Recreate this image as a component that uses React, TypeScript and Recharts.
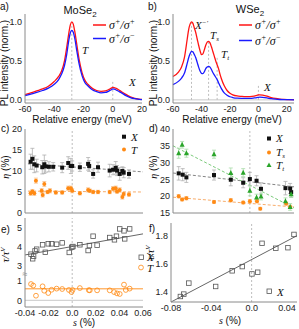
import React from "react";
import {
  ComposedChart,
  Line,
  Scatter,
  XAxis,
  YAxis,
  ReferenceLine,
  ReferenceDot,
  ErrorBar,
} from "recharts";

const SANS = "'Liberation Sans', Arial, sans-serif";
const SERIF = "'Liberation Serif', 'Times New Roman', serif";
const RED = "#ff1414";
const BLUE = "#1a1aff";
const ORANGE = "#ff8a14";
const GREEN = "#2aa52a";
const GRID = "#bdbdbd";
const AXIS = "#8a8a8a";

// a) MoSe2 spectra
const moEnergy = [-60, -56, -52, -48, -44, -40, -37, -35, -33, -31.5, -30, -29, -28, -27, -26, -24.5, -23, -21, -19, -17, -14, -11, -8, -5, -3, -1, 0, 1, 2, 4, 6, 9, 12, 15, 18, 20];
const moCo = [0.068, 0.09, 0.115, 0.14, 0.175, 0.235, 0.3, 0.37, 0.5, 0.67, 0.86, 0.96, 1.0, 0.97, 0.88, 0.7, 0.52, 0.35, 0.25, 0.2, 0.15, 0.12, 0.11, 0.115, 0.13, 0.15, 0.16, 0.158, 0.15, 0.13, 0.105, 0.07, 0.04, 0.02, 0.01, 0.006];
const moCross = [0.055, 0.075, 0.095, 0.12, 0.15, 0.2, 0.26, 0.33, 0.44, 0.58, 0.77, 0.86, 0.89, 0.865, 0.79, 0.62, 0.46, 0.31, 0.22, 0.18, 0.13, 0.105, 0.09, 0.095, 0.11, 0.13, 0.14, 0.138, 0.13, 0.11, 0.09, 0.055, 0.03, 0.015, 0.007, 0.004];

// b) WSe2 spectra
const wEnergy = [-60, -56, -54, -52, -50, -49, -48, -47, -46, -45, -44, -43, -42, -41, -40, -39, -38, -37, -36, -35, -34, -33, -32, -31, -30, -29, -28, -27, -26, -24, -22, -20, -18, -15, -12, -9, -6, -3, -1, 0, 1, 3, 6, 9, 12, 15, 18, 21, 25];
const wCo = [0.3, 0.36, 0.42, 0.54, 0.78, 0.9, 0.97, 1.0, 0.98, 0.92, 0.86, 0.78, 0.7, 0.63, 0.58, 0.59, 0.64, 0.7, 0.74, 0.75, 0.73, 0.68, 0.62, 0.56, 0.5, 0.45, 0.4, 0.33, 0.27, 0.18, 0.12, 0.085, 0.065, 0.05, 0.045, 0.042, 0.042, 0.048, 0.058, 0.063, 0.064, 0.06, 0.048, 0.03, 0.018, 0.01, 0.006, 0.004, 0.002];
const wCross = [0.195, 0.24, 0.28, 0.34, 0.47, 0.54, 0.59, 0.62, 0.615, 0.58, 0.54, 0.48, 0.42, 0.37, 0.34, 0.335, 0.36, 0.4, 0.42, 0.43, 0.42, 0.39, 0.35, 0.32, 0.29, 0.26, 0.22, 0.18, 0.145, 0.09, 0.06, 0.04, 0.03, 0.022, 0.02, 0.02, 0.02, 0.025, 0.03, 0.033, 0.034, 0.032, 0.025, 0.015, 0.009, 0.005, 0.003, 0.002, 0.001];

// c) MoSe2 valley polarization
const cXE = [-56.2, -55.0, -53.7, -52.1, -48.3, -46.9, -46.0, -43.8, -40.9, -34.8, -30.7, -28.9, -28.0, -22.8, -17.2, -16.5, -13.8, -10.5, -2.6, -0.3, 1.5, 2.4, 4.2, 6.0, 6.9, 10.5];
const cXEta = [12.2, 12.9, 11.6, 11.3, 10.9, 11.6, 11.1, 11.0, 11.0, 10.8, 11.9, 11.2, 11.2, 10.9, 11.7, 11.2, 9.3, 10.9, 10.1, 10.3, 10.75, 10.1, 9.3, 10.0, 9.6, 9.3];
const cXErr = [1.8, 2.5, 2.0, 1.5, 1.6, 2.2, 1.4, 1.2, 1.0, 1.2, 1.5, 1.8, 1.2, 1.0, 1.5, 1.3, 1.0, 1.2, 1.5, 1.2, 1.5, 1.2, 1.5, 1.0, 1.2, 1.0];
const cTE = [-56.2, -55.0, -53.7, -52.6, -48.7, -48.0, -46.9, -44.7, -43.1, -39.1, -34.8, -30.7, -28.9, -28.0, -22.8, -17.2, -16.1, -13.8, -10.5, -2.6, -0.3, 1.5, 2.4, 4.2, 6.0, 6.9, 10.5];
const cTEta = [4.7, 5.1, 4.7, 7.7, 5.3, 4.3, 6.9, 5.0, 5.3, 4.9, 4.9, 5.9, 5.9, 5.3, 4.7, 5.5, 5.3, 5.0, 5.0, 5.0, 5.8, 5.9, 5.1, 5.5, 3.8, 4.5, 4.4];
const cTErr = [0.5, 0.5, 0.5, 0.6, 0.5, 0.5, 0.6, 0.4, 0.5, 0.4, 0.4, 0.5, 0.5, 0.5, 0.4, 0.5, 0.4, 0.4, 0.4, 0.4, 0.5, 0.5, 0.4, 0.5, 0.5, 0.4, 0.4];
const cFitE = [-58, 20];
const cFitX = [11.7, 9.8];
const cFitT = [5.2, 5.0];

// d) WSe2 valley polarization
const dXE = [-56.0, -53.2, -50.6, -31.2, -19.4, -10.7, -6.0, -1.3, 1.8, 19.0, 22.3, 23.0];
const dXEta = [26.8, 26.4, 25.6, 26.3, 24.9, 24.0, 25.1, 24.6, 22.2, 22.4, 22.3, 21.2];
const dXErr = [2.0, 1.8, 1.5, 1.5, 1.8, 1.5, 2.0, 1.5, 1.8, 2.0, 1.5, 1.5];
const dTsE = [-56.0, -53.6, -50.6, -31.2, -19.4, -10.7, -6.0, -1.0, 1.3, 19.5, 22.3];
const dTsEta = [20.0, 19.0, 19.4, 18.3, 18.8, 18.1, 18.5, 18.5, 16.3, 17.8, 16.8];
const dTsErr = [0.5, 0.4, 0.5, 0.4, 0.5, 0.4, 0.5, 0.5, 0.4, 0.5, 0.5];
const dTtE = [-56.0, -53.6, -50.6, -31.2, -19.4, -10.7, -6.0, -1.3, 1.8, 19.0, 22.3, 23.0];
const dTtEta = [32.8, 35.3, 32.8, 32.5, 26.9, 27.0, 21.6, 19.6, 19.9, 18.5, 16.8, 20.6];
const dTtErr = [1.5, 1.0, 1.2, 1.2, 1.5, 1.2, 1.5, 1.0, 1.0, 1.0, 1.0, 1.0];
const dFitE = [-60, 25];
const dFitX = [26.9, 22.8];
const dFitTs = [19.7, 16.8];
const dFitTt = [35.0, 16.5];

// e) MoSe2 lifetime ratio vs strain
const eXS = [-0.0349, -0.0335, -0.0327, -0.0315, -0.0301, -0.0251, -0.0228, -0.0203, -0.0175, -0.0132, -0.0085, -0.0025, -0.0003, 0.0006, 0.0065, 0.0135, 0.0146, 0.0177, 0.0211, 0.0318, 0.0358, 0.0375, 0.0403, 0.0439, 0.0445, 0.0487];
const eXR = [3.61, 3.37, 3.5, 3.78, 3.87, 4.1, 3.71, 4.15, 4.15, 4.13, 4.2, 3.7, 3.97, 4.01, 4.1, 3.8, 4.06, 4.55, 4.08, 4.48, 4.36, 4.55, 4.93, 4.83, 4.41, 4.93];
const eTS = [-0.0349, -0.033, -0.0307, -0.0251, -0.0237, -0.0203, -0.0175, -0.0132, -0.0085, -0.0028, -0.0006, 0.0003, 0.0065, 0.0141, 0.0149, 0.0211, 0.0318, 0.0355, 0.038, 0.0403, 0.0439, 0.0454, 0.0487];
const eTR = [0.85, 0.77, 0.24, 0.73, 0.5, 0.38, 0.55, 0.61, 0.59, 0.54, 0.43, 0.54, 0.64, 0.53, 0.52, 0.52, 0.52, 0.43, 0.36, 0.33, 0.82, 0.54, 0.61];
const eFitS = [-0.04, 0.06];
const eFitX = [3.57, 4.67];
const eFitT = [0.6, 0.6];

// f) WSe2 lifetime ratio vs strain
const fXS = [-0.0707, -0.0673, -0.0623, -0.0357, -0.0193, -0.0093, 0.0003, 0.006, 0.0103, 0.024, 0.036, 0.042];
const fXR = [1.369, 1.386, 1.464, 1.44, 1.551, 1.581, 1.529, 1.541, 1.746, 1.711, 1.715, 1.809];
const fFitS = [-0.08, 0.045];
const fFitX = [1.33, 1.8];

// broken axis in e): values above the gap are shifted down
const GAP = 1.2;
const eDisp = (v: number) => (v < 2 ? v : v - GAP);
const eTickLabel = (d: number) => String(Math.round(d < 1.5 ? d : d + GAP));

const zip = (xs: number[], ys: number[], errs?: number[]) =>
  xs.map((x, i) => ({ x, y: ys[i], err: errs ? errs[i] : 0 }));

const axisLine = { stroke: AXIS, strokeWidth: 1 };

// tick renderers: p.x / p.y already sit tickSize + tickMargin away from the axis
const xTick = (fmt: (v: number) => string, maxX = 1e9) => (p: any) => (
  <text x={Math.min(p.x, maxX)} y={p.y} dy={5} textAnchor="middle" fontSize={9} fill="#222" fontFamily={SANS}>
    {fmt(p.payload.value)}
  </text>
);
const yTick = (fmt: (v: number) => string) => (p: any) => (
  <text x={p.x + 1} y={p.y} dy={3.2} textAnchor="end" fontSize={9} fill="#222" fontFamily={SANS}>
    {fmt(p.payload.value)}
  </text>
);
const fmt1 = (v: number) => v.toFixed(1);
const fmtInt = (v: number) => String(v);
const fmtS = (v: number) => (Math.abs(v) < 1e-9 ? "0.0" : v.toFixed(2));

const square = (fill: string, stroke: string, s: number) => (p: any) => (
  <rect x={p.cx - s / 2} y={p.cy - s / 2} width={s} height={s} fill={fill} stroke={stroke} strokeWidth={0.8} />
);
const circle = (fill: string, stroke: string, r: number) => (p: any) => (
  <circle cx={p.cx} cy={p.cy} r={r} fill={fill} stroke={stroke} strokeWidth={0.8} />
);
const triangle = (fill: string, s: number) => (p: any) => (
  <polygon
    points={`${p.cx},${p.cy - s * 0.6} ${p.cx - s / 2},${p.cy + s * 0.4} ${p.cx + s / 2},${p.cy + s * 0.4}`}
    fill={fill}
  />
);

const vline = (x: number, y0: number, y1: number, key: string) => (
  <ReferenceLine
    key={key}
    segment={[
      { x, y: y0 },
      { x, y: y1 },
    ]}
    stroke={GRID}
    strokeDasharray="2 2"
  />
);

function Spectrum(props: {
  energy: number[];
  co: number[];
  cross: number[];
  domain: [number, number];
  width: number;
  right: number;
  marks: [number, number][];
}) {
  const data = props.energy.map((e, i) => ({ e, co: props.co[i], cross: props.cross[i] }));
  return (
    <ComposedChart width={props.width} height={118} data={data} margin={{ top: 14, right: props.right, bottom: 0, left: 0 }}>
      <XAxis
        dataKey="e"
        type="number"
        domain={props.domain}
        ticks={[-60, -40, -20, 0, 20]}
        interval={0}
        tick={xTick(fmtInt)}
        tickLine={false}
        tickSize={2}
        tickMargin={2}
        axisLine={axisLine}
        height={15}
      />
      <YAxis
        type="number"
        domain={[-0.04, 1.1]}
        ticks={[0, 0.5, 1]}
        interval={0}
        tick={yTick(fmt1)}
        tickLine={false}
        tickSize={2}
        tickMargin={2}
        axisLine={axisLine}
        width={25}
      />
      <ReferenceLine y={0} stroke="#c8c8c8" />
      {props.marks.map(([x, top], i) => vline(x, 0, top, "m" + i))}
      <Line dataKey="co" type="monotone" stroke={RED} strokeWidth={1.3} dot={false} isAnimationActive={false} />
      <Line dataKey="cross" type="monotone" stroke={BLUE} strokeWidth={1.3} dot={false} isAnimationActive={false} />
    </ComposedChart>
  );
}

function Overlay() {
  const it = { fontFamily: SERIF, fontStyle: "italic" as const, fill: "#111" };
  const sans = { fontFamily: SANS, fill: "#111" };
  const sigma = (x: number, y: number, sign: string) => (
    <text x={x} y={y} fontSize={12} {...it}>
      σ<tspan dy={-5} fontSize={8}>+</tspan>
      <tspan dy={5}>/σ</tspan>
      <tspan dy={-5} fontSize={8}>{sign}</tspan>
    </text>
  );
  return (
    <svg width={299} height={329} style={{ position: "absolute", left: 0, top: 0, pointerEvents: "none" }}>
      {/* panel letters */}
      <text x={0} y={10} fontSize={10} {...sans}>a)</text>
      <text x={148} y={10} fontSize={10} {...sans}>b)</text>
      <text x={1} y={132} fontSize={10} {...sans}>c)</text>
      <text x={149} y={132} fontSize={10} {...sans}>d)</text>
      <text x={1} y={233} fontSize={10} {...sans}>e)</text>
      <text x={149} y={232} fontSize={10} {...sans}>f)</text>

      {/* titles */}
      <text x={80} y={14} fontSize={11} textAnchor="middle" {...sans}>
        MoSe<tspan dy={3} fontSize={8}>2</tspan>
      </text>
      <text x={250} y={13} fontSize={11} textAnchor="middle" {...sans}>
        WSe<tspan dy={3} fontSize={8}>2</tspan>
      </text>

      {/* axis titles */}
      <text transform="translate(8,63) rotate(-90)" fontSize={10} textAnchor="middle" {...sans}>PL intensity (norm.)</text>
      <text transform="translate(157,63) rotate(-90)" fontSize={10} textAnchor="middle" {...sans}>PL intensity (norm.)</text>
      <text x={82} y={123} fontSize={10} textAnchor="middle" {...sans}>Relative energy (meV)</text>
      <text x={232} y={123} fontSize={10} textAnchor="middle" {...sans}>Relative energy (meV)</text>
      <text transform="translate(9,167) rotate(-90)" fontSize={10} textAnchor="middle" {...sans}>
        <tspan {...it}>η</tspan> (%)
      </text>
      <text transform="translate(157,167) rotate(-90)" fontSize={10} textAnchor="middle" {...sans}>
        <tspan {...it}>η</tspan> (%)
      </text>
      <text transform="translate(9,255) rotate(-90)" fontSize={11} textAnchor="middle" {...it}>
        τ/τ<tspan dy={-4} fontSize={7}>V</tspan>
      </text>
      <text transform="translate(154,253) rotate(-90)" fontSize={11} textAnchor="middle" {...it}>
        τ/τ<tspan dy={-4} fontSize={7}>V</tspan>
      </text>
      <text x={84} y={326} fontSize={10} textAnchor="middle" {...sans}>
        <tspan {...it}>s</tspan> (%)
      </text>
      <text x={230} y={324} fontSize={10} textAnchor="middle" {...sans}>
        <tspan {...it}>s</tspan> (%)
      </text>

      {/* a) legend + peak labels */}
      <line x1={93} x2={106} y1={25} y2={25} stroke={RED} strokeWidth={1.5} />
      {sigma(109, 29, "+")}
      <line x1={93} x2={106} y1={38.5} y2={38.5} stroke={BLUE} strokeWidth={1.5} />
      {sigma(109, 42.5, "−")}
      <text x={82} y={54} fontSize={11} {...it}>T</text>
      <text x={129} y={86} fontSize={11} {...it}>X</text>

      {/* b) legend + peak labels */}
      <line x1={239} x2={252} y1={25} y2={25} stroke={RED} strokeWidth={1.5} />
      {sigma(255, 29, "+")}
      <line x1={239} x2={252} y1={40.5} y2={40.5} stroke={BLUE} strokeWidth={1.5} />
      {sigma(255, 44.5, "−")}
      <text x={195} y={29} fontSize={11} {...it}>
        X<tspan dy={-4} fontSize={7}>−′</tspan>
      </text>
      <text x={210} y={39} fontSize={11} {...it}>
        T<tspan dy={2} fontSize={7}>s</tspan>
      </text>
      <text x={221} y={58} fontSize={11} {...it}>
        T<tspan dy={2} fontSize={7}>t</tspan>
      </text>
      <text x={264} y={91} fontSize={11} {...it}>X</text>

      {/* c) legend */}
      <rect x={122} y={134.7} width={4} height={4} fill="#111" />
      <text x={131} y={140.5} fontSize={11} {...it}>X</text>
      <circle cx={124} cy={149.5} r={2} fill={ORANGE} />
      <text x={131} y={153.5} fontSize={11} {...it}>T</text>

      {/* d) legend */}
      <rect x={267} y={136.5} width={4} height={4} fill="#111" />
      <text x={276} y={142} fontSize={11} {...it}>X</text>
      <circle cx={269} cy={152.5} r={2} fill={ORANGE} />
      <text x={276} y={156} fontSize={11} {...it}>
        T<tspan dy={2} fontSize={7}>s</tspan>
      </text>
      <polygon points="269,162.5 266.5,167 271.5,167" fill={GREEN} />
      <text x={276} y={169} fontSize={11} {...it}>
        T<tspan dy={2} fontSize={7}>t</tspan>
      </text>

      {/* e) legend */}
      <rect x={139} y={255} width={4.5} height={4.5} fill="none" stroke="#555" strokeWidth={0.8} />
      <text x={147} y={261} fontSize={11} {...it}>X</text>
      <circle cx={141} cy={267.5} r={2.4} fill="none" stroke={ORANGE} strokeWidth={0.8} />
      <text x={147} y={272} fontSize={11} {...it}>T</text>

      {/* f) legend */}
      <rect x={267} y={289} width={4.5} height={4.5} fill="none" stroke="#555" strokeWidth={0.8} />
      <text x={277} y={295.5} fontSize={11} {...it}>X</text>
    </svg>
  );
}

export default function App() {
  const cX = zip(cXE, cXEta, cXErr);
  const cT = zip(cTE, cTEta, cTErr);
  const dX = zip(dXE, dXEta, dXErr);
  const dTs = zip(dTsE, dTsEta, dTsErr);
  const dTt = zip(dTtE, dTtEta, dTtErr);
  const eX = zip(eXS, eXR.map(eDisp));
  const eT = zip(eTS, eTR.map(eDisp));
  const fX = zip(fXS, fXR);

  const pos = (left: number, top: number): React.CSSProperties => ({ position: "absolute", left, top });
  const yCommon = { interval: 0 as const, tickLine: false, tickSize: 2, tickMargin: 2, axisLine };

  return (
    <div style={{ position: "absolute", left: 0, top: 0, width: 299, height: 329, background: "#fff", overflow: "hidden" }}>
      <style>{"svg.recharts-surface { overflow: visible; }"}</style>
      <div style={pos(0, 0)}>
        <Spectrum energy={moEnergy} co={moCo} cross={moCross} domain={[-60, 20]} width={145} right={3} marks={[[-28, 0.95], [0, 0.25]]} />
      </div>
      <div style={pos(148, 0)}>
        <Spectrum energy={wEnergy} co={wCo} cross={wCross} domain={[-60, 25]} width={151} right={5} marks={[[-47, 1.0], [-35, 0.75], [-29, 0.55], [0, 0.2]]} />
      </div>

      {/* c) */}
      <div style={pos(0, 125)}>
        <ComposedChart width={146} height={89} margin={{ top: 4, right: 3, bottom: 0, left: 0 }}>
          <XAxis dataKey="x" type="number" domain={[-60, 20]} ticks={[-60, -40, -20, 0, 20]} tick={false} tickLine={false} axisLine={axisLine} height={1} />
          <YAxis dataKey="y" type="number" domain={[0, 20]} ticks={[0, 5, 10, 15, 20]} tick={yTick(fmtInt)} width={25} {...yCommon} />
          {vline(-28, 0, 20, "c0")}
          <Line data={zip(cFitE, cFitX)} dataKey="y" stroke="#777" strokeDasharray="3 2" strokeWidth={0.9} dot={false} isAnimationActive={false} />
          <Line data={zip(cFitE, cFitT)} dataKey="y" stroke="#f6a35a" strokeDasharray="3 2" strokeWidth={0.9} dot={false} isAnimationActive={false} />
          <Scatter data={cX} dataKey="y" shape={square("#111", "none", 4)} isAnimationActive={false}>
            <ErrorBar dataKey="err" direction="y" width={2} stroke="#b0b0b0" strokeWidth={0.8} />
          </Scatter>
          <Scatter data={cT} dataKey="y" shape={circle(ORANGE, "none", 2)} isAnimationActive={false}>
            <ErrorBar dataKey="err" direction="y" width={2} stroke="#f8c08a" strokeWidth={0.8} />
          </Scatter>
        </ComposedChart>
      </div>

      {/* d) */}
      <div style={pos(148, 125)}>
        <ComposedChart width={151} height={89} margin={{ top: 4, right: 5, bottom: 0, left: 0 }}>
          <XAxis dataKey="x" type="number" domain={[-60, 25]} ticks={[-60, -40, -20, 0, 20]} tick={false} tickLine={false} axisLine={axisLine} height={1} />
          <YAxis dataKey="y" type="number" domain={[15, 40]} ticks={[15, 20, 25, 30, 35, 40]} tick={yTick(fmtInt)} width={25} {...yCommon} />
          {vline(-6, 15, 40, "d0")}
          <Line data={zip(dFitE, dFitX)} dataKey="y" stroke="#777" strokeDasharray="3 2" strokeWidth={0.9} dot={false} isAnimationActive={false} />
          <Line data={zip(dFitE, dFitTs)} dataKey="y" stroke="#f6a35a" strokeDasharray="3 2" strokeWidth={0.9} dot={false} isAnimationActive={false} />
          <Line data={zip(dFitE, dFitTt)} dataKey="y" stroke="#6cc46c" strokeDasharray="3 2" strokeWidth={0.9} dot={false} isAnimationActive={false} />
          <Scatter data={dX} dataKey="y" shape={square("#111", "none", 4)} isAnimationActive={false}>
            <ErrorBar dataKey="err" direction="y" width={2} stroke="#b0b0b0" strokeWidth={0.8} />
          </Scatter>
          <Scatter data={dTs} dataKey="y" shape={circle(ORANGE, "none", 2)} isAnimationActive={false}>
            <ErrorBar dataKey="err" direction="y" width={2} stroke="#f8c08a" strokeWidth={0.8} />
          </Scatter>
          <Scatter data={dTt} dataKey="y" shape={triangle(GREEN, 5)} isAnimationActive={false}>
            <ErrorBar dataKey="err" direction="y" width={2} stroke="#a8dca8" strokeWidth={0.8} />
          </Scatter>
        </ComposedChart>
      </div>

      {/* e) */}
      <div style={pos(0, 214)}>
        <ComposedChart width={146} height={108} margin={{ top: 4, right: 3, bottom: 0, left: 0 }}>
          <XAxis
            dataKey="x"
            type="number"
            domain={[-0.04, 0.06]}
            ticks={[-0.04, -0.02, 0, 0.02, 0.04, 0.06]}
            interval={0}
            tick={xTick(fmtS)}
            tickLine={false}
            tickSize={2}
            tickMargin={2}
            axisLine={axisLine}
            height={15}
          />
          <YAxis
            dataKey="y"
            type="number"
            domain={[-0.35, 4.3]}
            ticks={[0, 1, 3 - GAP, 4 - GAP, 5 - GAP]}
            tick={yTick(eTickLabel)}
            width={25}
            {...yCommon}
          />
          <ReferenceLine y={0} stroke="#c8c8c8" />
          {vline(0, -0.35, 4.3, "e0")}
          <ReferenceDot
            x={-0.04}
            y={1.38}
            r={0}
            ifOverflow="visible"
            shape={(p: any) => (
              <text x={p.cx} y={p.cy + 3} fontSize={9} textAnchor="middle" fill="#888" fontFamily={SANS}>
                ≈
              </text>
            )}
          />
          <Line data={zip(eFitS, eFitX.map(eDisp))} dataKey="y" stroke="#555" strokeWidth={0.9} dot={false} isAnimationActive={false} />
          <Line data={zip(eFitS, eFitT)} dataKey="y" stroke={ORANGE} strokeWidth={0.9} dot={false} isAnimationActive={false} />
          <Scatter data={eX} dataKey="y" shape={square("none", "#555", 4.5)} isAnimationActive={false} />
          <Scatter data={eT} dataKey="y" shape={circle("none", ORANGE, 2.4)} isAnimationActive={false} />
        </ComposedChart>
      </div>

      {/* f) */}
      <div style={pos(148, 219)}>
        <ComposedChart width={151} height={98} margin={{ top: 4, right: 2, bottom: 0, left: 0 }}>
          <XAxis
            dataKey="x"
            type="number"
            domain={[-0.08, 0.045]}
            ticks={[-0.08, -0.04, 0, 0.04]}
            interval={0}
            tick={xTick(fmtS, 139)}
            tickLine={false}
            tickSize={2}
            tickMargin={2}
            axisLine={axisLine}
            height={15}
          />
          <YAxis dataKey="y" type="number" domain={[1.33, 1.89]} ticks={[1.4, 1.6, 1.8]} tick={yTick(fmt1)} width={23} {...yCommon} />
          {vline(0, 1.33, 1.89, "f0")}
          <Line data={zip(fFitS, fFitX)} dataKey="y" stroke="#555" strokeWidth={0.9} dot={false} isAnimationActive={false} />
          <Scatter data={fX} dataKey="y" shape={square("none", "#555", 4.5)} isAnimationActive={false} />
        </ComposedChart>
      </div>

      <Overlay />
    </div>
  );
}
